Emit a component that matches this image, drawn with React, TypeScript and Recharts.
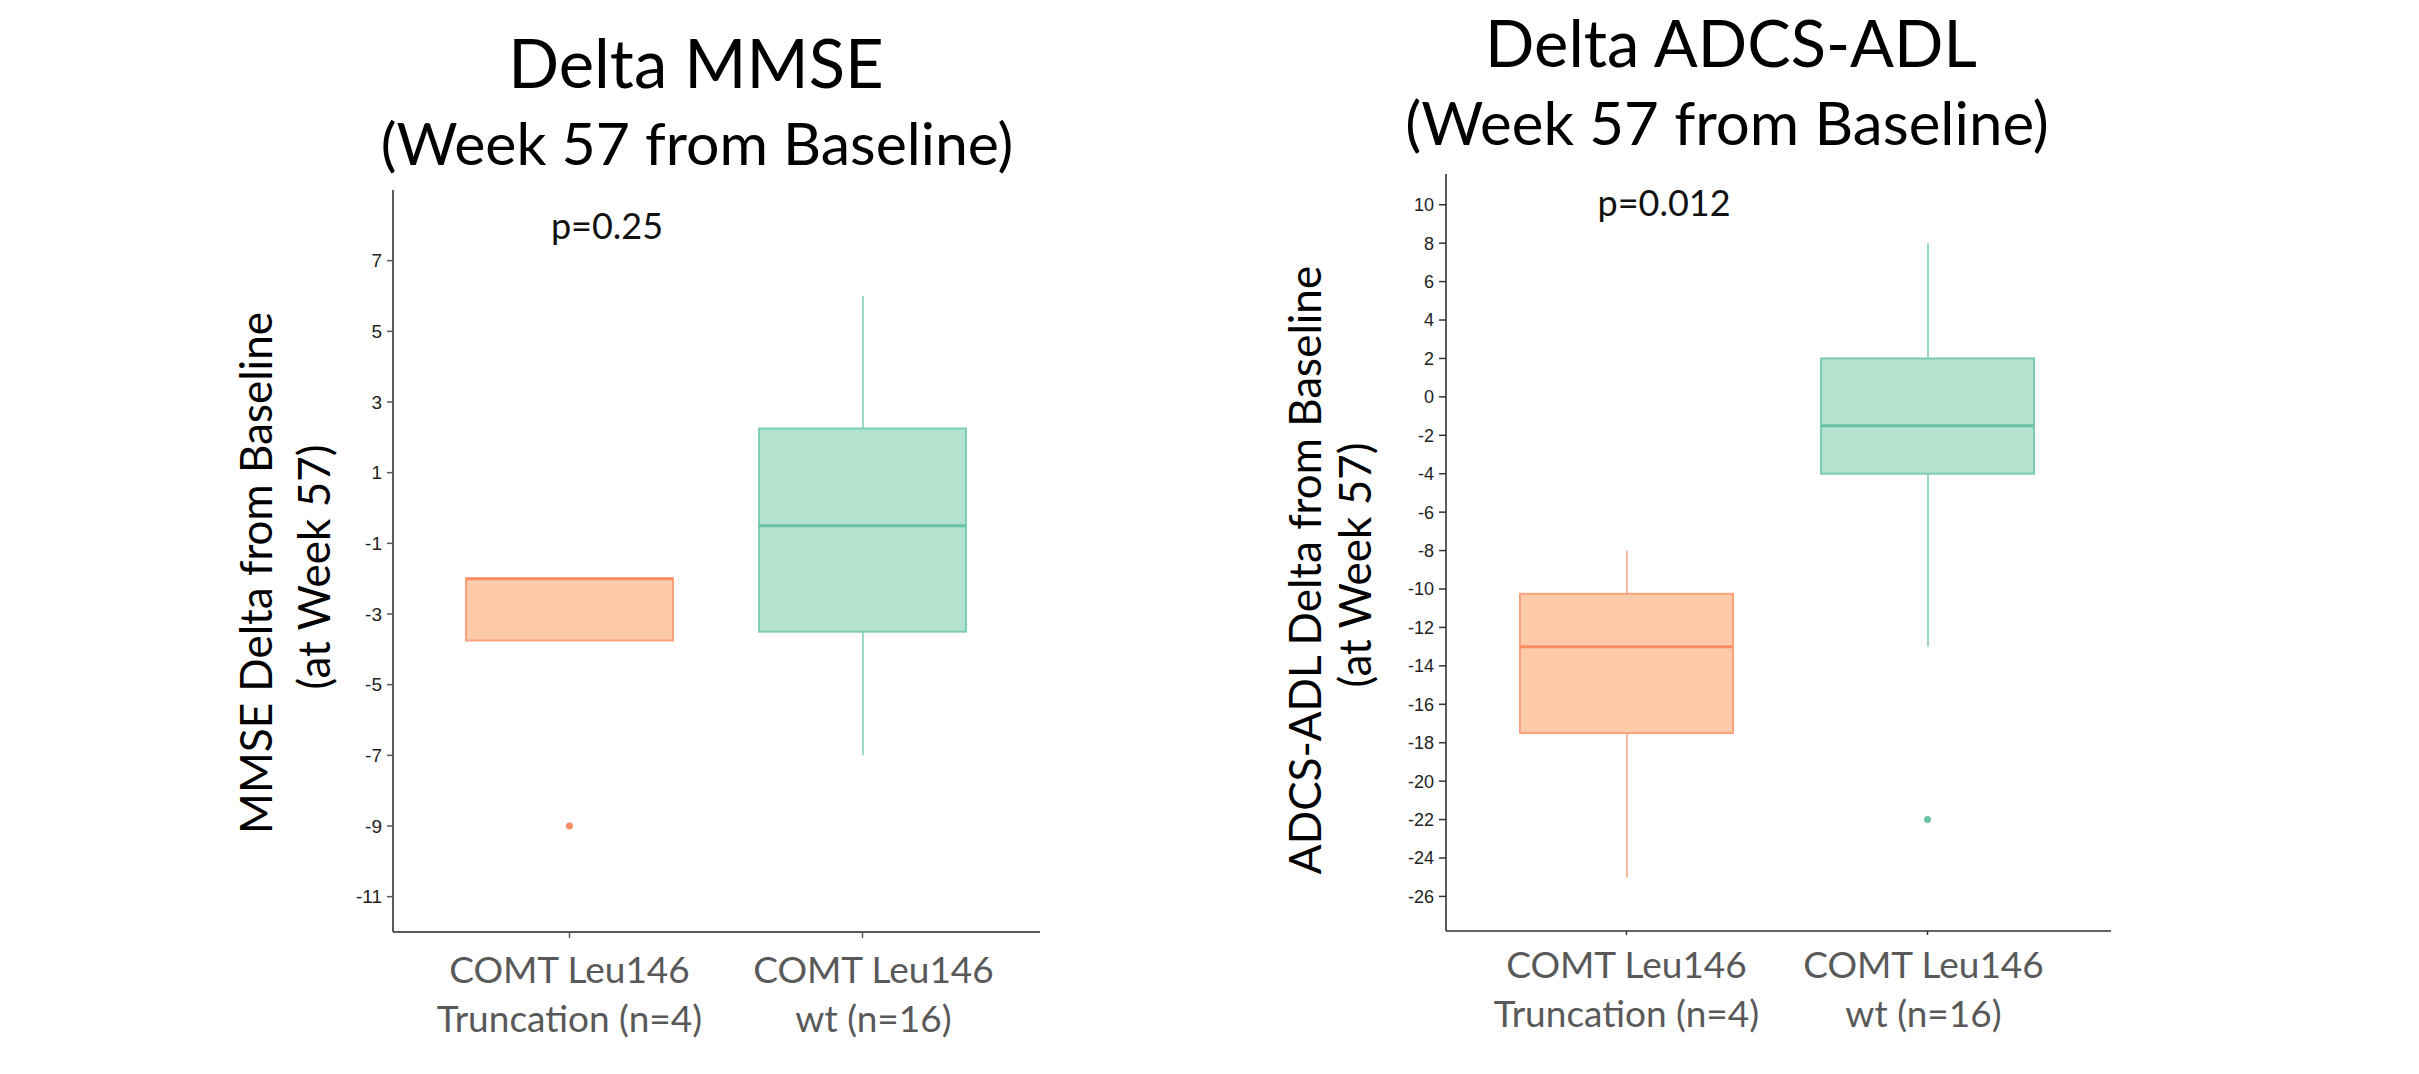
import React from "react";
import { ComposedChart, Bar, Line, XAxis, YAxis } from "recharts";

// ---------- data ----------
const categoriesLine1 = ["COMT Leu146", "COMT Leu146"];
const categoriesLine2 = ["Truncation (n=4)", "wt (n=16)"];

const mmseMin = [-3.75, -7];
const mmseQ1 = [-3.75, -3.5];
const mmseMedian = [-2, -0.5];
const mmseQ3 = [-2, 2.25];
const mmseMax = [-2, 6];
const mmseOutlier: (number | null)[] = [-9, null];
const mmseTicks = [7, 5, 3, 1, -1, -3, -5, -7, -9, -11];

const adlMin = [-25, -13];
const adlQ1 = [-17.5, -4];
const adlMedian = [-13, -1.5];
const adlQ3 = [-10.25, 2];
const adlMax = [-8, 8];
const adlOutlier: (number | null)[] = [null, -22];
const adlTicks = [10, 8, 6, 4, 2, 0, -2, -4, -6, -8, -10, -12, -14, -16, -18, -20, -22, -24, -26];

// ---------- styles ----------
const FONT = "Lato, 'Open Sans', sans-serif";
const TICK_FONT = "'Liberation Sans', Arial, sans-serif";
const STROKE = ["#fc8d62", "#66c2a5"];
const BOX_STROKE = ["#f9a17c", "#7ccdb1"];
const WHISKER = ["#f8a886", "#86d0b7"];
const FILL = ["#fdcbaa", "#b3e3cf"];

function buildRows(mins: number[], q1: number[], med: number[], q3: number[], maxs: number[], out: (number | null)[]) {
  return categoriesLine2.map((name, i) => ({
    name,
    whisker: [mins[i], maxs[i]],
    box: [q1[i], q3[i]],
    median: med[i],
    outlier: out[i],
  }));
}

const mmseRows = buildRows(mmseMin, mmseQ1, mmseMedian, mmseQ3, mmseMax, mmseOutlier);
const adlRows = buildRows(adlMin, adlQ1, adlMedian, adlQ3, adlMax, adlOutlier);

const norm = (y: number, h: number) => (h < 0 ? { top: y + h, h: -h } : { top: y, h });

const BoxShape = (props: any) => {
  const { x, y, width, height, index } = props;
  const { top, h } = norm(y, height);
  return (
    <rect x={x} y={top} width={width} height={h} fill={FILL[index]} stroke={BOX_STROKE[index]} strokeWidth={2} />
  );
};

const WhiskerShape = (props: any) => {
  const { x, y, width, height, index } = props;
  const { top, h } = norm(y, height);
  const cx = x + width / 2;
  return <line x1={cx} x2={cx} y1={top} y2={top + h} stroke={WHISKER[index]} strokeWidth={1.6} />;
};

const makeMedianDot = (halfW: number) => (props: any) => {
  const { cx, cy, index } = props;
  if (cy == null || cx == null || isNaN(cy)) return <g key={`m${index}`} />;
  return (
    <line key={`m${index}`} x1={cx - halfW} x2={cx + halfW} y1={cy} y2={cy} stroke={STROKE[index]} strokeWidth={3} />
  );
};

const OutlierDot = (props: any) => {
  const { cx, cy, index, value } = props;
  if (value == null || cy == null || isNaN(cy)) return <g key={`o${index}`} />;
  return <circle key={`o${index}`} cx={cx} cy={cy} r={3.5} fill={STROKE[index]} />;
};

const makeCatTick = (offset: number, dxs: number[]) => (props: any) => {
  const { x, y, payload } = props;
  const i = categoriesLine2.indexOf(payload.value);
  const tx = x + (dxs[i] || 0);
  return (
    <g>
      <text x={tx} y={y + offset} textAnchor="middle" fontFamily={FONT} fontSize={37} fill="#595959">
        {categoriesLine1[i]}
      </text>
      <text x={tx} y={y + offset + 49} textAnchor="middle" fontFamily={FONT} fontSize={37} fill="#595959">
        {categoriesLine2[i]}
      </text>
    </g>
  );
};

type BoxChartProps = {
  rows: any[];
  ticks: number[];
  domain: [number, number];
  width: number;
  height: number;
  margin: { top: number; right: number; bottom: number; left: number };
  padL: number;
  padR: number;
  boxW: number;
  axisColor: string;
  axisWidth: number;
  tickFont: number;
  yTickSize: number;
  xTickSize: number;
  labelOffset: number;
  labelDx: number[];
};

function BoxChart(p: BoxChartProps) {
  return (
    <ComposedChart width={p.width} height={p.height} data={p.rows} margin={p.margin}>
      <XAxis
        xAxisId="main"
        dataKey="name"
        type="category"
        padding={{ left: p.padL, right: p.padR }}
        height={100}
        axisLine={{ stroke: p.axisColor, strokeWidth: p.axisWidth }}
        tickLine={{ stroke: p.axisColor, strokeWidth: 1.5 }}
        tickSize={p.xTickSize}
        interval={0}
        tick={makeCatTick(p.labelOffset, p.labelDx)}
      />
      <XAxis xAxisId="wh" dataKey="name" type="category" padding={{ left: p.padL, right: p.padR }} hide />
      <YAxis
        xAxisId="main"
        type="number"
        domain={p.domain}
        allowDataOverflow
        ticks={p.ticks}
        interval={0}
        width={80}
        axisLine={{ stroke: p.axisColor, strokeWidth: p.axisWidth }}
        tickLine={{ stroke: p.axisColor, strokeWidth: 1.5 }}
        tickSize={p.yTickSize}
        tickMargin={5}
        tick={{ fontFamily: TICK_FONT, fontSize: p.tickFont, fill: "#222222" }}
      />
      <Bar xAxisId="wh" dataKey="whisker" barSize={10} shape={WhiskerShape} isAnimationActive={false} />
      <Bar xAxisId="main" dataKey="box" barSize={p.boxW} shape={BoxShape} isAnimationActive={false} />
      <Line
        xAxisId="main"
        dataKey="median"
        stroke="none"
        dot={makeMedianDot(p.boxW / 2)}
        activeDot={false}
        legendType="none"
        isAnimationActive={false}
      />
      <Line
        xAxisId="main"
        dataKey="outlier"
        stroke="none"
        dot={OutlierDot}
        activeDot={false}
        legendType="none"
        isAnimationActive={false}
      />
    </ComposedChart>
  );
}

export default function App() {
  return (
    <div style={{ position: "absolute", left: 0, top: 0, width: 2419, height: 1074, background: "#ffffff", overflow: "hidden" }}>
      <div style={{ position: "absolute", left: 0, top: 0 }}>
        <BoxChart
          rows={mmseRows}
          ticks={mmseTicks}
          domain={[-12, 9]}
          width={1100}
          height={1074}
          margin={{ top: 190, right: 60, bottom: 42, left: 313 }}
          padL={30}
          padR={31}
          boxW={207}
          axisColor="#595959"
          axisWidth={2}
          tickFont={19}
          yTickSize={6}
          xTickSize={6}
          labelOffset={43}
          labelDx={[0, 11]}
        />
      </div>
      <div style={{ position: "absolute", left: 1150, top: 0 }}>
        <BoxChart
          rows={adlRows}
          ticks={adlTicks}
          domain={[-27.8, 11.6]}
          width={1269}
          height={1074}
          margin={{ top: 174, right: 308, bottom: 43, left: 216 }}
          padL={30}
          padR={33}
          boxW={213}
          axisColor="#333333"
          axisWidth={1.6}
          tickFont={18}
          yTickSize={7}
          xTickSize={4}
          labelOffset={41}
          labelDx={[0, -4]}
        />
      </div>
      <svg width={2419} height={1074} style={{ position: "absolute", left: 0, top: 0, pointerEvents: "none" }}>
        <text x={696} y={88} textAnchor="middle" fontFamily={FONT} fontSize={67} fill="#000">Delta MMSE</text>
        <text x={697} y={165} textAnchor="middle" fontFamily={FONT} fontSize={59} fill="#000">(Week 57 from Baseline)</text>
        <text x={1731} y={67} textAnchor="middle" fontFamily={FONT} fontSize={65} fill="#000">Delta ADCS-ADL</text>
        <text x={1727} y={145} textAnchor="middle" fontFamily={FONT} fontSize={60} fill="#000">(Week 57 from Baseline)</text>

        <text x={607} y={239} textAnchor="middle" fontFamily={FONT} fontSize={36} fill="#111">p=0.25</text>
        <text x={1664} y={216} textAnchor="middle" fontFamily={FONT} fontSize={36} fill="#111">p=0.012</text>

        <text x={272} y={573} transform="rotate(-90 272 573)" textAnchor="middle" fontFamily={FONT} fontSize={44} fill="#000">MMSE Delta from Baseline</text>
        <text x={330} y={567} transform="rotate(-90 330 567)" textAnchor="middle" fontFamily={FONT} fontSize={44} fill="#000">(at Week 57)</text>
        <text x={1321} y={570} transform="rotate(-90 1321 570)" textAnchor="middle" fontFamily={FONT} fontSize={44} fill="#000">ADCS-ADL Delta from Baseline</text>
        <text x={1371} y={565} transform="rotate(-90 1371 565)" textAnchor="middle" fontFamily={FONT} fontSize={44} fill="#000">(at Week 57)</text>
      </svg>
    </div>
  );
}
